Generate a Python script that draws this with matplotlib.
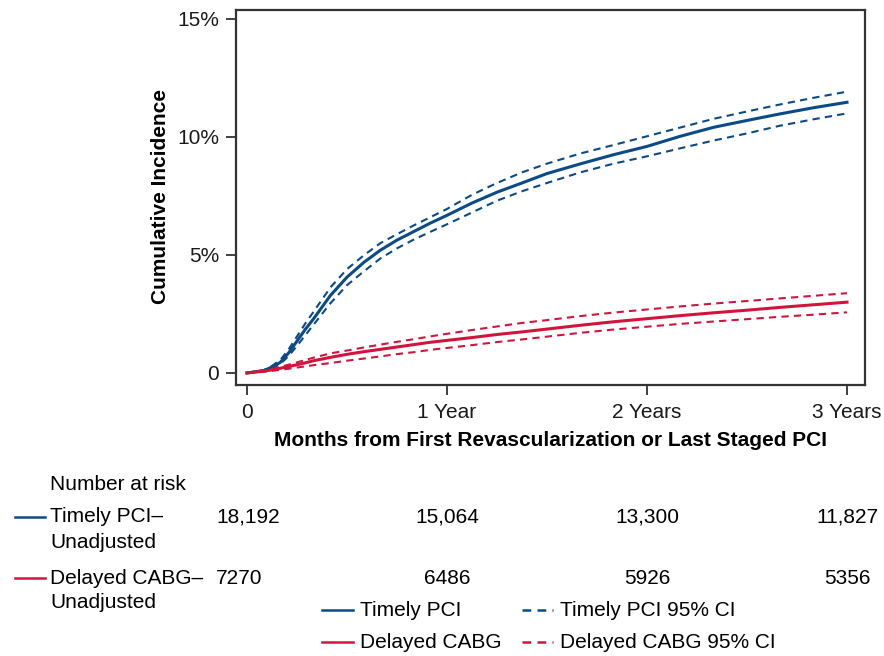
import matplotlib
matplotlib.use("Agg")
import matplotlib.pyplot as plt
import matplotlib.transforms as mtransforms
from matplotlib.lines import Line2D

plt.rcParams["font.family"] = ["Liberation Sans", "DejaVu Sans"]

BLUE = "#0a4a86"
RED = "#d2143c"
DASH = (0, (3.5, 2.5))

# Monate seit Revaskularisation
months = [0, 1, 1.5, 2, 2.5, 3, 3.5, 4, 5, 6, 7, 8, 9, 10, 11, 12, 13.5, 15, 16.5, 18,
          20, 22, 24, 26, 28, 30, 32, 34, 36]

# Kumulative Inzidenz (%)
pci = [0, 0.1, 0.25, 0.45, 0.85, 1.35, 1.85, 2.3, 3.28, 4.06, 4.68, 5.2, 5.63, 5.99, 6.35,
       6.68, 7.2, 7.66, 8.05, 8.45, 8.86, 9.25, 9.6, 10.03, 10.41, 10.7, 10.98, 11.24, 11.47]
pci_hi = [0, 0.12, 0.3, 0.55, 1.0, 1.55, 2.1, 2.6, 3.62, 4.4, 4.98, 5.5, 5.88, 6.25, 6.6,
          6.95, 7.55, 8.05, 8.5, 8.87, 9.3, 9.66, 10.03, 10.4, 10.77, 11.08, 11.38, 11.66, 11.92]
pci_lo = [0, 0.08, 0.2, 0.38, 0.72, 1.15, 1.6, 2.05, 2.95, 3.72, 4.3, 4.85, 5.28, 5.65, 5.98,
          6.3, 6.8, 7.3, 7.7, 8.05, 8.5, 8.87, 9.18, 9.52, 9.85, 10.15, 10.48, 10.75, 11.0]

cabg = [0, 0.08, 0.13, 0.2, 0.27, 0.35, 0.43, 0.52, 0.66, 0.79, 0.9, 1.0, 1.1, 1.2, 1.3,
        1.38, 1.5, 1.63, 1.74, 1.86, 2.02, 2.17, 2.3, 2.43, 2.55, 2.66, 2.78, 2.89, 3.0]
cabg_hi = [0, 0.1, 0.17, 0.26, 0.35, 0.45, 0.55, 0.65, 0.83, 0.95, 1.08, 1.2, 1.32, 1.43, 1.55,
           1.66, 1.82, 1.97, 2.12, 2.24, 2.41, 2.56, 2.69, 2.82, 2.94, 3.05, 3.16, 3.27, 3.38]
cabg_lo = [0, 0.05, 0.09, 0.13, 0.18, 0.23, 0.28, 0.33, 0.42, 0.52, 0.61, 0.7, 0.8, 0.88, 0.98,
           1.06, 1.18, 1.31, 1.42, 1.54, 1.7, 1.84, 1.96, 2.08, 2.18, 2.28, 2.38, 2.47, 2.57]

# Achsenbeschriftung
x_ticks = [0, 12, 24, 36]
x_labels = ["0", "1 Year", "2 Years", "3 Years"]
y_ticks = [0, 5, 10, 15]
y_labels = ["0", "5%", "10%", "15%"]

# Number at risk
risk_pci = ["18,192", "15,064", "13,300", "11,827"]
risk_cabg = ["7270", "6486", "5926", "5356"]

W, H = 884, 656
fig = plt.figure(figsize=(W / 100, H / 100), dpi=100)
ax = fig.add_axes([236 / W, 1 - 385 / H, (865 - 236) / W, (385 - 10) / H])

ax.plot(months, pci, color=BLUE, lw=2.2)
ax.plot(months, pci_hi, color=BLUE, lw=1.5, ls=DASH)
ax.plot(months, pci_lo, color=BLUE, lw=1.5, ls=DASH)
ax.plot(months, cabg, color=RED, lw=2.2)
ax.plot(months, cabg_hi, color=RED, lw=1.5, ls=DASH)
ax.plot(months, cabg_lo, color=RED, lw=1.5, ls=DASH)

ax.set_xlim(-0.66, 37.08)
ax.set_ylim(-0.51, 15.38)
ax.set_xticks(x_ticks)
ax.set_xticklabels(x_labels)
ax.set_yticks(y_ticks)
ax.set_yticklabels(y_labels)
ax.tick_params(direction="out", length=7, width=1.3, colors="#333333", labelsize=15,
               labelcolor="#1a1a1a")
ax.tick_params(axis="y", pad=5)
ax.tick_params(axis="x", pad=6)
for s in ax.spines.values():
    s.set_linewidth(1.6)
    s.set_color("#333333")

fs = 15
fig.text((236 + 865) / 2 / W, 1 - 441 / H, "Months from First Revascularization or Last Staged PCI",
         fontsize=fs, fontweight="bold", ha="center", va="center")
fig.text(160 / W, 1 - 197 / H, "Cumulative Incidence", fontsize=fs, fontweight="bold",
         rotation=90, ha="center", va="center")

# Number-at-risk Tabelle
tr = mtransforms.blended_transform_factory(ax.transData, fig.transFigure)
fig.text(50 / W, 1 - 485 / H, "Number at risk", fontsize=fs, va="center")
rows = [(517, 542, "Timely PCI\u2013", BLUE, risk_pci), (578, 603, "Delayed CABG\u2013", RED, risk_cabg)]
for y1, y2, name, col, vals in rows:
    fig.add_artist(Line2D([15 / W, 45 / W], [1 - y1 / H, 1 - y1 / H], color=col, lw=1.8))
    fig.text(50 / W, 1 - y1 / H, name, fontsize=fs, va="center")
    fig.text(50 / W, 1 - y2 / H, "Unadjusted", fontsize=fs, va="center")
    for i, v in enumerate(vals):
        if i == 0:
            ax.text(-1.85, 1 - y1 / H, v, transform=tr, fontsize=fs, va="center", ha="left")
        else:
            ax.text(x_ticks[i], 1 - y1 / H, v, transform=tr, fontsize=fs, va="center", ha="center")

# Legende
leg = [
    (322, 610, "Timely PCI", BLUE, "-"),
    (322, 642, "Delayed CABG", RED, "-"),
    (522, 610, "Timely PCI 95% CI", BLUE, DASH),
    (522, 642, "Delayed CABG 95% CI", RED, DASH),
]
for x0, y0, lab, col, ls in leg:
    fig.add_artist(Line2D([x0 / W, (x0 + 31) / W], [1 - y0 / H, 1 - y0 / H], color=col, lw=1.8, ls=ls))
    fig.text((x0 + 38) / W, 1 - y0 / H, lab, fontsize=fs, va="center")

fig.savefig("out.png", dpi=100)
